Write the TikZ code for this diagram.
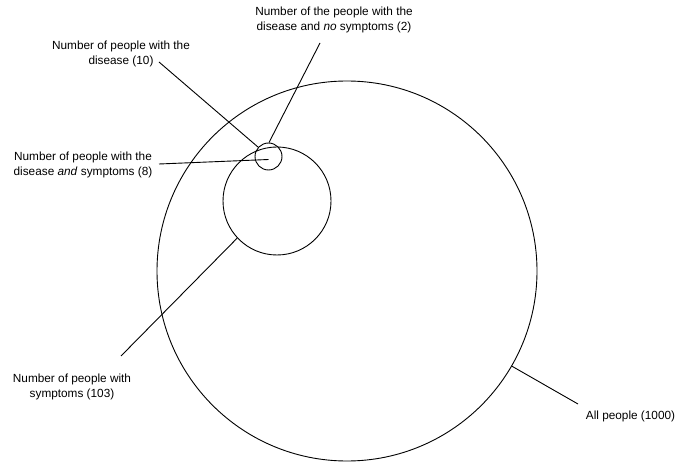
\documentclass[tikz,border=0pt]{standalone}
\usepackage{fontspec}
\setmainfont{Liberation Sans}
\usetikzlibrary{calc}
\begin{document}
\begin{tikzpicture}[x=1pt,y=-1pt,
  lbl/.style={font=\fontsize{11.8}{14.3}\selectfont, align=center, inner sep=0pt, anchor=north},
  ring/.style={circle, draw, line width=0.9pt, inner sep=0pt},
  lead/.style={line width=0.9pt}]
\useasboundingbox (0,0) rectangle (678,465);
% circles
\node[ring, minimum size=380pt] (all) at (347,271) {};
\node[ring, minimum size=108pt] (sym) at (277,201) {};
\node[ring, minimum size=27pt] (dis) at (268.5,156.5) {};
% labels
\node[lbl] (tno) at (334,7) {Number of the people with the\\disease and \textit{no} symptoms (2)};
\node[lbl] (tdis) at (121,41) {Number of people with the\\disease (10)};
\node[lbl] (tand) at (83,152) {Number of people with the\\disease \textit{and} symptoms (8)};
\node[lbl] (tsym) at (72,374) {Number of people with\\symptoms (103)};
\node[lbl, anchor=base] (tall) at (630.5,419.5) {All people (1000)};
% leader start points
\coordinate (pdis) at (159,62);
\coordinate (pno) at (320,43);
\coordinate (pand) at (159,164);
\coordinate (psym) at (121,356);
\coordinate (pall) at (578,404);
% leaders
\draw[lead] (pdis) -- (dis.138);
\draw[lead] (pno) -- (dis.88);
\draw[lead] (pand) -- ($(dis.center)+(0,3)$);
\draw[lead] (psym) -- (sym.223);
\draw[lead] (all.330) -- (pall);
\end{tikzpicture}
\end{document}
